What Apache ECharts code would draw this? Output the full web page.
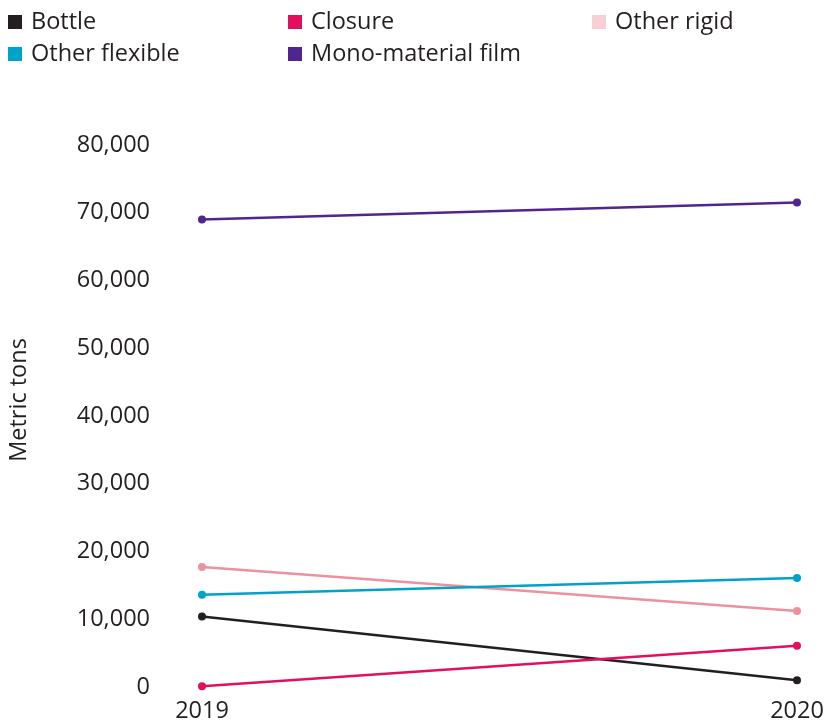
<!DOCTYPE html>
<html style="height:100%;">
<head>
	<meta charset="utf-8" />
	<title>Metric tons by packaging type</title>
	<script type="text/javascript" src="https://cdn.jsdelivr.net/npm/echarts@6/dist/echarts.min.js"></script>
</head>
<body style="margin:0;padding:0;height:100%;">
	<div id="chart" style="width:834px;height:726px;"></div>
	<script type="text/javascript">
		// data
		const years = ['2019', '2020'];
		const seriesNames = ['Bottle', 'Closure', 'Other rigid', 'Other flexible', 'Mono-material film'];
		const bottle = [10400, 1000];
		const closure = [100, 6100];
		const otherRigid = [17700, 11200];
		const otherFlexible = [13600, 16100];
		const monoFilm = [69000, 71500];
		const lineColors = ['#231f20', '#e0105f', '#ee919f', '#00a3c7', '#51258f'];
		const legendColors = ['#231f20', '#e0105f', '#f8cfd5', '#00a3c7', '#51258f'];
		const legendPos = [[8, 10], [288, 10], [592, 10], [8, 42], [288, 42]];

		const chart = echarts.init(document.getElementById('chart'));
		const values = [bottle, closure, otherRigid, otherFlexible, monoFilm];
		const font = '"Open Sans", sans-serif';
		const fs = 23.5;

		const legends = seriesNames.map(function (name, i) {
			return {
				left: legendPos[i][0],
				top: legendPos[i][1],
				icon: 'rect',
				itemWidth: 14,
				itemHeight: 14,
				itemGap: 0,
				padding: 0,
				selectedMode: false,
				data: [{ name: name, itemStyle: { color: legendColors[i] } }],
				textStyle: { fontFamily: font, fontSize: fs, color: '#231f20', padding: [0, 0, 0, 4] }
			};
		});

		chart.setOption({
			animation: false,
			legend: legends,
			grid: { left: 202, right: 37, top: 145, bottom: 39, containLabel: false, outerBoundsMode: 'none' },
			xAxis: {
				type: 'category',
				data: years,
				boundaryGap: false,
				axisLine: { show: false },
				axisTick: { show: false },
				axisLabel: { fontFamily: font, fontSize: fs, color: '#231f20', margin: 12 }
			},
			yAxis: {
				type: 'value',
				min: 0,
				max: 80000,
				interval: 10000,
				name: 'Metric tons',
				nameLocation: 'middle',
				nameGap: 171,
				nameTextStyle: { fontFamily: font, fontSize: fs, color: '#231f20', padding: [0, 0, 0, 32] },
				splitLine: { show: false },
				axisLine: { show: false },
				axisTick: { show: false },
				axisLabel: {
					fontFamily: font, fontSize: fs, color: '#231f20', margin: 52,
					formatter: function (v) { return v.toLocaleString('en-US'); }
				}
			},
			series: seriesNames.map(function (name, i) {
				return {
					name: name,
					type: 'line',
					data: values[i],
					symbol: 'circle',
					symbolSize: 8,
					color: lineColors[i],
					lineStyle: { width: 2.5, color: lineColors[i] },
					itemStyle: { color: lineColors[i] }
				};
			})
		});
	</script>
</body>
</html>
